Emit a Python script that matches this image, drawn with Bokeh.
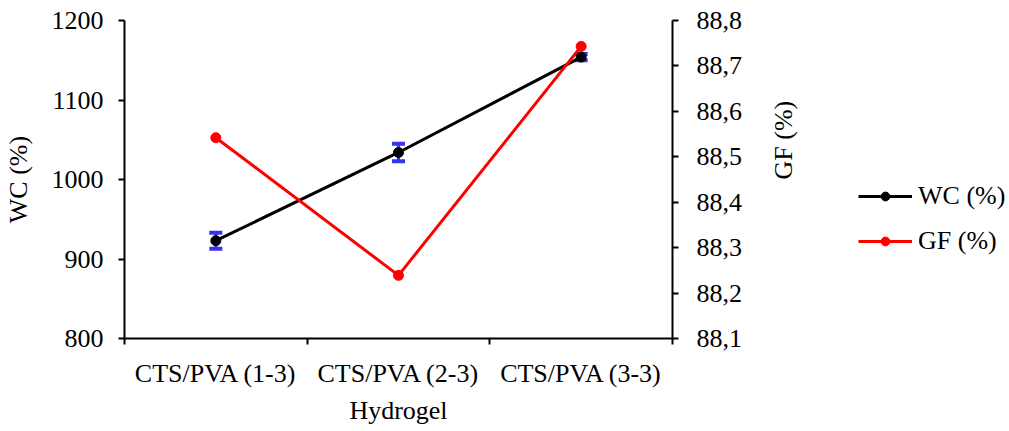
import math
from bokeh.plotting import figure
from bokeh.layouts import row
from bokeh.models import (LinearAxis, Range1d, FixedTicker, CustomJSTickFormatter,
                          Whisker, TeeHead, ColumnDataSource, Legend, LegendItem)
from bokeh.embed import file_html
from bokeh.resources import INLINE

categories = ["CTS/PVA (1-3)", "CTS/PVA (2-3)", "CTS/PVA (3-3)"]
wc = [923, 1034, 1154]
wc_err = [10, 11, 4]
gf = [88.542, 88.239, 88.743]

FONT = "Liberation Serif"
FS = "26px"

xs = [i + 0.5 for i in range(len(categories))]
src = ColumnDataSource(dict(x=xs, wc=wc, gf=gf,
                            lo=[v - e for v, e in zip(wc, wc_err)],
                            hi=[v + e for v, e in zip(wc, wc_err)]))

p = figure(frame_width=548, frame_height=318, x_range=Range1d(0, len(categories)),
           y_range=Range1d(800, 1200), output_backend="svg", toolbar_location=None,
           min_border_left=122, min_border_right=0, min_border_top=20, min_border_bottom=80,
           x_axis_location=None, y_axis_location=None)
p.grid.visible = False
p.outline_line_color = None
p.background_fill_color = "white"
p.border_fill_color = "white"

p.extra_y_ranges = {"gf": Range1d(88.1, 88.8)}

def style(ax):
    ax.axis_line_color = "black"
    ax.axis_line_width = 2
    ax.major_tick_line_color = "black"
    ax.major_tick_line_width = 2
    ax.major_tick_in = 0
    ax.major_tick_out = 6
    ax.minor_tick_line_color = None
    ax.major_label_text_font = FONT
    ax.major_label_text_font_size = FS
    ax.major_label_text_color = "black"
    ax.axis_label_text_font = FONT
    ax.axis_label_text_font_size = FS
    ax.axis_label_text_font_style = "normal"
    ax.axis_label_text_color = "black"

# bottom axis
xax = LinearAxis(axis_label="Hydrogel",
                 ticker=FixedTicker(ticks=xs, minor_ticks=list(range(len(categories) + 1))))
style(xax)
xax.major_tick_out = 0
xax.minor_tick_line_color = "black"
xax.minor_tick_line_width = 2
xax.minor_tick_in = 0
xax.minor_tick_out = 6
xax.major_label_overrides = {x: c for x, c in zip(xs, categories)}
xax.major_label_standoff = 14
xax.axis_label_standoff = 5
p.add_layout(xax, "below")

# left axis
yax = LinearAxis(axis_label="WC (%)", ticker=FixedTicker(ticks=[800, 900, 1000, 1100, 1200]))
style(yax)
yax.major_label_standoff = 15
yax.axis_label_standoff = 16
p.add_layout(yax, "left")

# right axis
rax = LinearAxis(y_range_name="gf", axis_label="GF (%)",
                 ticker=FixedTicker(ticks=[88.1, 88.2, 88.3, 88.4, 88.5, 88.6, 88.7, 88.8]),
                 formatter=CustomJSTickFormatter(code="return tick.toFixed(1).replace('.', ',');"))
style(rax)
rax.major_label_standoff = 18
rax.axis_label_standoff = 38
rax.axis_label_orientation = math.pi / 2
p.add_layout(rax, "right")

# error bars
blue = "#3535ee"
w = Whisker(source=src, base="x", lower="lo", upper="hi", line_color=blue, line_width=3,
            upper_head=TeeHead(size=13, line_color=blue, line_width=4),
            lower_head=TeeHead(size=13, line_color=blue, line_width=4))
p.add_layout(w)

l1 = p.line("x", "wc", source=src, line_color="black", line_width=3)
m1 = p.scatter("x", "wc", source=src, size=10, color="black")
l2 = p.line("x", "gf", source=src, line_color="red", line_width=3, y_range_name="gf")
m2 = p.scatter("x", "gf", source=src, size=10, color="red", y_range_name="gf")

# legend panel (separate figure placed to the right)
lg = figure(width=190, height=400, x_range=Range1d(0, 1), y_range=Range1d(0, 1),
            output_backend="svg", toolbar_location=None, min_border=0,
            x_axis_location=None, y_axis_location=None)
lg.grid.visible = False
lg.outline_line_color = None
nan = float("nan")
empty = ColumnDataSource(dict(x=[nan], y=[nan]))
k1 = lg.line("x", "y", source=empty, line_color="black", line_width=3)
k1m = lg.scatter("x", "y", source=empty, size=10, color="black")
k2 = lg.line("x", "y", source=empty, line_color="red", line_width=3)
k2m = lg.scatter("x", "y", source=empty, size=10, color="red")

legend = Legend(items=[LegendItem(label="WC (%)", renderers=[k1, k1m]),
                       LegendItem(label="GF (%)", renderers=[k2, k2m])],
                location=(43, 55), padding=0, margin=0, spacing=15,
                label_text_font=FONT, label_text_font_size=FS, label_text_color="black",
                glyph_width=54, glyph_height=22, label_height=30, label_standoff=6,
                border_line_color=None, background_fill_alpha=0)
lg.add_layout(legend, "center")

layout = row(p, lg)
open("out.html", "w").write(file_html(layout, INLINE))
